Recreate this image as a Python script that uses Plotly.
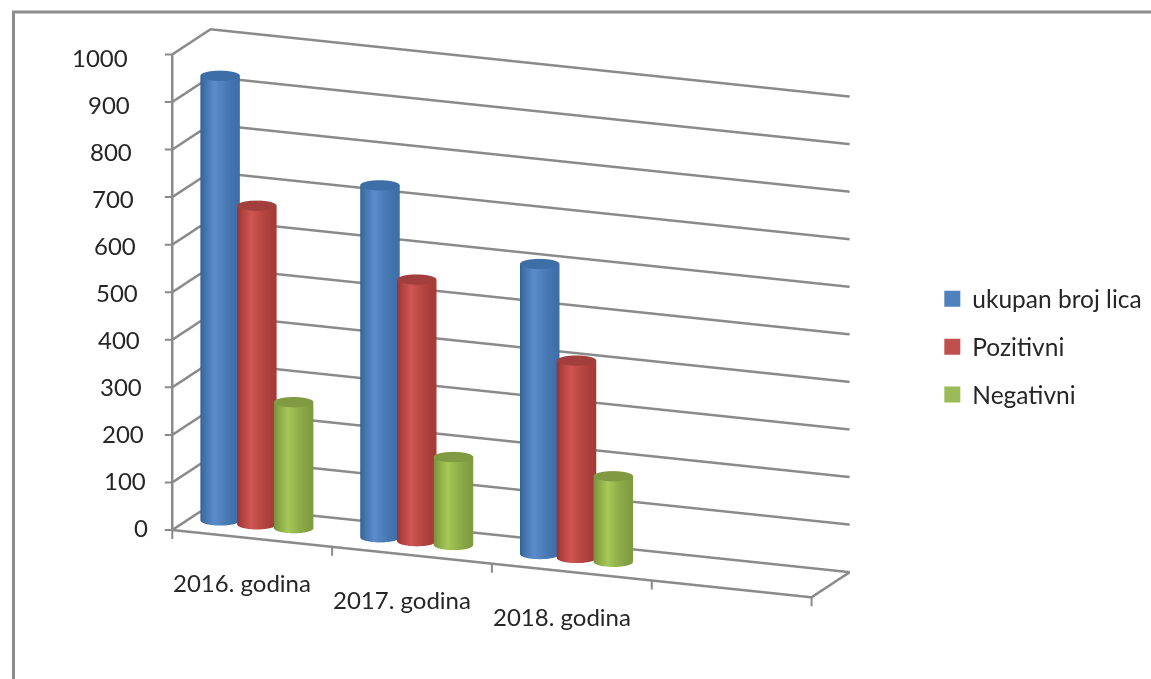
import numpy as np
import plotly.graph_objects as go

categories = ["2016. godina", "2017. godina", "2018. godina"]
series_names = ["ukupan broj lica", "Pozitivni", "Negativni"]
ukupan = [935, 740, 610]
pozitivni = [670, 550, 415]
negativni = [265, 185, 180]
z_ticks = [0, 100, 200, 300, 400, 500, 600, 700, 800, 900, 1000]

series_values = [ukupan, pozitivni, negativni]
offsets = [-0.23, 0.0, 0.23]
sw = [
    [[0, "#3f6fa8"], [0.45, "#5b8dcc"], [1, "#2f5b8f"]],
    [[0, "#a63b38"], [0.45, "#cf5652"], [1, "#8f2e2c"]],
    [[0, "#7f9c3f"], [0.45, "#a6c958"], [1, "#6d8736"]],
]
caps = ["#3d6ea8", "#a23f3c", "#7f9a40"]
legend_cols = ["#4f81bd", "#c0504d", "#9bbb59"]
FONT = "Lato, Carlito, sans-serif"
GRID = "#8a8a8a"
TEXT = "#262626"

RX = 0.115        # cylinder radius, x units
RY = 0.19         # cylinder radius, depth units

fig = go.Figure()
theta = np.linspace(0, 2 * np.pi, 73)
for s, vals in enumerate(series_values):
    for c, v in enumerate(vals):
        cx = c + 0.41 + offsets[s]
        X = np.array([cx + RX * np.cos(theta)] * 2)
        Y = np.array([0.5 + RY * np.sin(theta)] * 2)
        Z = np.array([np.zeros_like(theta), np.full_like(theta, v)])
        shade = np.array([(1 - np.cos(theta)) / 2] * 2)
        fig.add_trace(go.Surface(x=X, y=Y, z=Z, surfacecolor=shade, cmin=0, cmax=1,
                                 colorscale=sw[s], showscale=False, hoverinfo="skip",
                                 lighting=dict(ambient=1, diffuse=0, specular=0, fresnel=0)))
        rad = np.array([0.0, 1.0])
        XC = cx + RX * np.outer(rad, np.cos(theta))
        YC = 0.5 + RY * np.outer(rad, np.sin(theta))
        ZC = np.full_like(XC, v)
        fig.add_trace(go.Surface(x=XC, y=YC, z=ZC, surfacecolor=np.zeros_like(XC), cmin=0, cmax=1,
                                 colorscale=[[0, caps[s]], [1, caps[s]]], showscale=False,
                                 hoverinfo="skip",
                                 lighting=dict(ambient=1, diffuse=0, specular=0, fresnel=0)))

# walls' gridlines and the floor outline, thick enough to read like the reference
for t in z_ticks:
    fig.add_trace(go.Scatter3d(x=[0, 0, 4], y=[0, 1, 1], z=[t, t, t], mode="lines",
                               line=dict(color=GRID, width=5), showlegend=False, hoverinfo="skip"))
fig.add_trace(go.Scatter3d(x=[0, 4, 4], y=[0, 0, 1], z=[0, 0, 0], mode="lines",
                           line=dict(color=GRID, width=5), showlegend=False, hoverinfo="skip"))
fig.add_trace(go.Scatter3d(x=[0, 0], y=[0, 0], z=[0, 1000], mode="lines",
                           line=dict(color=GRID, width=5), showlegend=False, hoverinfo="skip"))

for s, name in enumerate(series_names):
    fig.add_trace(go.Scatter3d(x=[None], y=[None], z=[None], mode="markers", name=name,
                               legendgroup=name,
                               marker=dict(symbol="square", size=16, color=legend_cols[s]),
                               showlegend=True))

annos = [dict(x=i + 0.5, y=0, z=0, text=t, showarrow=False, xshift=-10, yshift=-44,
              font=dict(family=FONT, size=24, color=TEXT))
         for i, t in enumerate(categories)]
# value labels, right-aligned beside the left edge, leaning with it like the reference
annos += [dict(x=0, y=0, z=t, text=str(t), showarrow=False, xanchor="right",
               xshift=-22 - 20 * t / 1000, yshift=3 - 6 * t / 1000,
               font=dict(family=FONT, size=24, color=TEXT))
          for t in z_ticks]
# tick marks
annos += [dict(x=i, y=0, z=0, text="\u00a0", showarrow=True, arrowhead=0, arrowwidth=2,
               arrowcolor=GRID, ax=0, ay=11, standoff=0, startstandoff=0,
               font=dict(size=1))
          for i in range(5)]
annos += [dict(x=0, y=0, z=t, text="\u00a0", showarrow=True, arrowhead=0, arrowwidth=2,
               arrowcolor=GRID, ax=-9, ay=0, standoff=0, startstandoff=0,
               font=dict(size=1))
          for t in z_ticks]

fig.update_layout(
    width=1151, height=679,
    autosize=False,
    margin=dict(l=0, r=0, t=0, b=0),
    paper_bgcolor="white",
    font=dict(family=FONT, size=24, color=TEXT),
    scene=dict(
        domain=dict(x=[0, 0.888], y=[0, 1]),
        aspectmode="manual",
        aspectratio=dict(x=2.028, y=0.303, z=1.452),
        camera=dict(
            projection=dict(type="orthographic"),
            eye=dict(x=0.583, y=-1.457, z=0.348),
            center=dict(x=0, y=0, z=-0.08),
            up=dict(x=0, y=0, z=1),
        ),
        xaxis=dict(range=[0, 4], showticklabels=False, ticks="", tickvals=[0, 1, 2, 3, 4],
                   showgrid=False, showline=False, zeroline=False, title="",
                   showbackground=False, showspikes=False),
        yaxis=dict(range=[0, 1], showticklabels=False, ticks="", showgrid=False,
                   showline=False, zeroline=False, title="",
                   showbackground=False, showspikes=False),
        zaxis=dict(range=[0, 1000], tickvals=z_ticks, showticklabels=False, ticks="", showgrid=False,
                   showline=False, zeroline=False, title="",
                   showbackground=False, showspikes=False),
        annotations=annos,
    ),
    showlegend=True,
    legend=dict(x=0.81, y=0.593, xanchor="left", yanchor="top", bgcolor="rgba(0,0,0,0)",
                font=dict(family=FONT, size=24.5, color=TEXT), tracegroupgap=13),
    shapes=[
        dict(type="line", xref="paper", yref="paper", x0=13.5 / 1151, x1=13.5 / 1151,
             y0=0, y1=1 - 11 / 679, line=dict(color="#8c8c8c", width=3)),
        dict(type="line", xref="paper", yref="paper", x0=12 / 1151, x1=1,
             y0=1 - 12 / 679, y1=1 - 12 / 679, line=dict(color="#8c8c8c", width=3)),
    ],
)
fig.write_html("out.html", config=dict(displayModeBar=False),
               post_script="document.body.style.margin='0';window.dispatchEvent(new Event('resize'));")
